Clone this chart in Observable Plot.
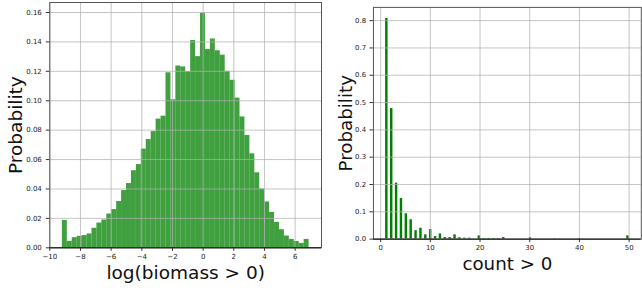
<!DOCTYPE html>
<html>
<head>
<meta charset="utf-8">
<script src="https://cdn.jsdelivr.net/npm/d3@7"></script>
<script src="https://cdn.jsdelivr.net/npm/@observablehq/plot@0.6"></script>
<style>
  html, body { margin: 0; padding: 0; background: #fff; }
  body { width: 642px; height: 290px; overflow: hidden; position: relative; font-family: "DejaVu Sans", sans-serif; }
  #left { position: absolute; left: 0; top: 0; }
  #right { position: absolute; left: 330px; top: 0; }
</style>
</head>
<body>
<div id="left"></div>
<div id="right"></div>
<script>
// ---- Left panel: histogram of log(biomass > 0), 50 bins, density ----
const biomassBinLo = -9.18;
const biomassBinHi = 6.91;
const biomassDensity = [
  0.0186, 0.0044, 0.0069, 0.0078, 0.0083, 0.0094, 0.0133, 0.0168, 0.0189, 0.0230,
  0.0260, 0.0315, 0.0389, 0.0437, 0.0524, 0.0566, 0.0671, 0.0736, 0.0790, 0.0875,
  0.0895, 0.1190, 0.1007, 0.1236, 0.1230, 0.1198, 0.1410, 0.1300, 0.1595, 0.1348,
  0.1420, 0.1340, 0.1310, 0.1200, 0.1139, 0.1018, 0.0890, 0.0764, 0.0639, 0.0510,
  0.0400, 0.0312, 0.0240, 0.0173, 0.0123, 0.0080, 0.0057, 0.0043, 0.0030, 0.0057
];
const leftXTicks = [-10, -8, -6, -4, -2, 0, 2, 4, 6];
const leftYTicks = [0, 0.02, 0.04, 0.06, 0.08, 0.10, 0.12, 0.14, 0.16];
const leftXLabel = "log(biomass > 0)";

// ---- Right panel: histogram of count > 0, 100 bins over [1, 50], density ----
const countValues = [1, 2, 3, 4, 5, 6, 7, 8, 9, 10, 11, 12, 13, 14, 15, 16, 17, 18, 20, 21, 22, 23, 24, 25, 30, 35, 40, 50];
const countDensity = [0.808, 0.478, 0.205, 0.149, 0.093, 0.071, 0.031, 0.040, 0.0157, 0.035,
  0.0096, 0.019, 0.006, 0.006, 0.0157, 0.005, 0.0036, 0.0036, 0.012, 0.0024,
  0.0024, 0.0024, 0.0024, 0.006, 0.005, 0.0015, 0.0015, 0.012];
const countBinLo = 1, countBinHi = 50, countBinN = 100;
const rightXTicks = [0, 10, 20, 30, 40, 50];
const rightYTicks = [0, 0.1, 0.2, 0.3, 0.4, 0.5, 0.6, 0.7, 0.8];
const rightXLabel = "count > 0";
const yLabel = "Probability";

// Build bin tables
const bw = (biomassBinHi - biomassBinLo) / biomassDensity.length;
const biomassBins = biomassDensity.map((p, i) => ({x1: biomassBinLo + i * bw, x2: biomassBinLo + (i + 1) * bw, p}));
const cw = (countBinHi - countBinLo) / countBinN;
const countBins = countValues.map((v, i) => {
  const k = Math.min(countBinN - 1, Math.floor((v - countBinLo) / cw + 1e-9));
  return {x1: countBinLo + k * cw, x2: countBinLo + (k + 1) * cw, p: countDensity[i]};
});

const style = {fontFamily: "DejaVu Sans, sans-serif", fontSize: "7px", background: "#fff", overflow: "visible", color: "#222"};
const gridStyle = {stroke: "#b0b0b0", strokeOpacity: 0.75, strokeWidth: 1};
const labelSize = 18.5;

const left = Plot.plot({
  width: 330, height: 290,
  marginLeft: 49.3, marginRight: 9, marginTop: 2, marginBottom: 42.7,
  style,
  x: {domain: [-10, 7.72]},
  y: {domain: [0, 0.1668]},
  marks: [
    Plot.rectY(biomassBins, {x1: "x1", x2: "x2", y: "p", fill: "green", fillOpacity: 0.75, inset: 0}),
    Plot.gridX(leftXTicks, gridStyle),
    Plot.gridY(leftYTicks, gridStyle),
    Plot.axisX(leftXTicks, {tickSize: 3.5, tickPadding: 3, label: null, fontSize: 7, stroke: "#333"}),
    Plot.axisY(leftYTicks, {tickSize: 3.5, tickPadding: 4.5, label: null, fontSize: 7, tickFormat: d => d.toFixed(2), stroke: "#333"}),
    Plot.frame({stroke: "#555"}),
    Plot.ruleY([0], {stroke: "#111"}),
    Plot.text([leftXLabel], {frameAnchor: "bottom", dy: 31, fontSize: labelSize, textAnchor: "middle", lineAnchor: "bottom", fill: "#111"}),
    Plot.text([yLabel], {frameAnchor: "left", rotate: -90, dx: -27.8, fontSize: labelSize, textAnchor: "middle", lineAnchor: "bottom", fill: "#111"})
  ]
});
document.getElementById("left").appendChild(left);

const right = Plot.plot({
  width: 316, height: 290,
  marginLeft: 43.5, marginRight: 1.2, marginTop: 7, marginBottom: 48.3,
  style,
  x: {domain: [-1.45, 52.45]},
  y: {domain: [0, 0.8484]},
  marks: [
    Plot.rectY(countBins, {x1: "x1", x2: "x2", y: "p", fill: "green", inset: 0}),
    Plot.gridX(rightXTicks, gridStyle),
    Plot.gridY(rightYTicks, gridStyle),
    Plot.axisX(rightXTicks, {tickSize: 3.5, tickPadding: 3, label: null, fontSize: 7, stroke: "#333"}),
    Plot.axisY(rightYTicks, {tickSize: 3.5, tickPadding: 4, label: null, fontSize: 7, tickFormat: d => d.toFixed(1), stroke: "#333"}),
    Plot.frame({stroke: "#555"}),
    Plot.ruleY([0], {stroke: "#111"}),
    Plot.text([rightXLabel], {frameAnchor: "bottom", dy: 31, fontSize: labelSize, textAnchor: "middle", lineAnchor: "bottom", fill: "#111"}),
    Plot.text([yLabel], {frameAnchor: "left", rotate: -90, dx: -21.3, fontSize: labelSize, textAnchor: "middle", lineAnchor: "bottom", fill: "#111"})
  ]
});
document.getElementById("right").appendChild(right);
</script>
</body>
</html>
